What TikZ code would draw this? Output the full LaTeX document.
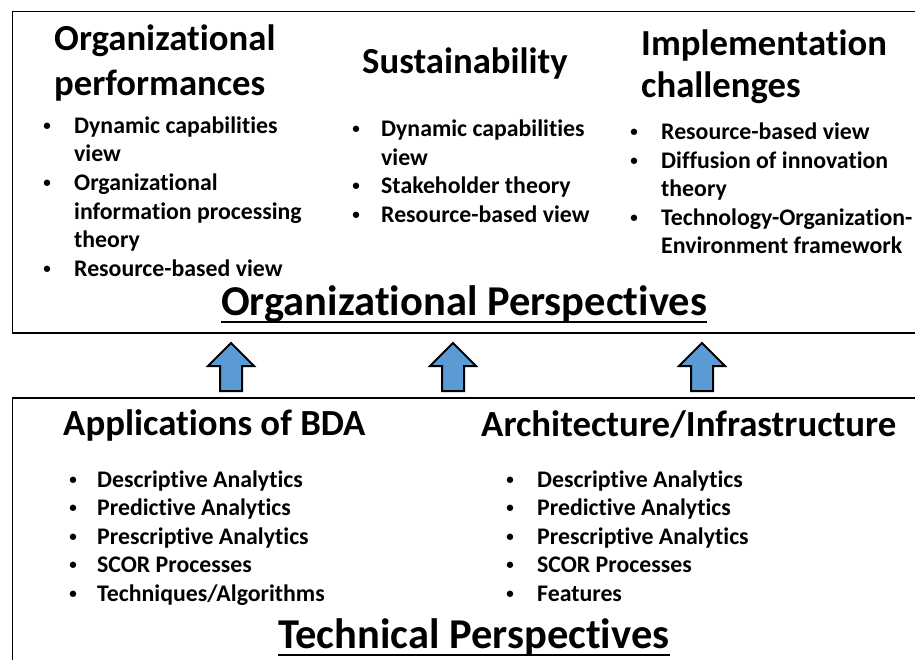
\documentclass[tikz,border=0pt]{standalone}
\usepackage{fontspec}
\setmainfont{Carlito}[Ligatures={NoCommon}]
\definecolor{arrblue}{HTML}{5B9BD5}
\begin{document}
\begin{tikzpicture}[x=1pt,y=-1pt,
  txt/.style={anchor=base west, inner sep=0pt, font=\bfseries\fontsize{23.8}{28}\selectfont},
  bul/.style={anchor=base, inner sep=0pt, yshift=3pt, font=\bfseries\fontsize{15}{18}\selectfont},
  head/.style={anchor=base west, inner sep=0pt, font=\bfseries\fontsize{36.7}{44}\selectfont},
  bhead/.style={anchor=base west, inner sep=0pt, font=\bfseries\fontsize{36.8}{44}\selectfont},
  persp/.style={anchor=base west, inner sep=0pt, font=\bfseries\fontsize{42.5}{50}\selectfont},
  frame/.style={draw=black, line width=1.5pt},
  uline/.style={line width=2pt},
  arr/.style={draw=black, line width=2pt, fill=arrblue, line join=miter}]
\useasboundingbox (0,0) rectangle (915,660);
\clip (0,0) rectangle (915,660);
\draw[frame] (930,11.5) -- (12.5,11.5) -- (12.5,333) -- (930,333);
\draw[frame] (930,398) -- (12.5,398) -- (12.5,670);

% top left column
\node[head] (h1a) at (54,51) {Organizational};
\node[head] (h1b) at (54,96) {performances};
\node[bul] (b1a) at (47,133.5) {•};
\node[txt] (t1a) at (74,133.5) {Dynamic capabilities};
\node[txt] (t1b) at (74,162) {view};
\node[bul] (b1b) at (47,190.7) {•};
\node[txt] (t1c) at (74,190.7) {Organizational};
\node[txt] (t1d) at (74,219.4) {information processing};
\node[txt] (t1e) at (74,248) {theory};
\node[bul] (b1c) at (47,276.7) {•};
\node[txt] (t1f) at (74,276.7) {Resource-based view};

% top middle column
\node[head] (h2) at (362,74) {Sustainability};
\node[bul] (b2a) at (356,137) {•};
\node[txt] (t2a) at (381,137) {Dynamic capabilities};
\node[txt] (t2b) at (381,165.5) {view};
\node[bul] (b2b) at (356,194) {•};
\node[txt] (t2c) at (381,194) {Stakeholder theory};
\node[bul] (b2c) at (356,222.5) {•};
\node[txt] (t2d) at (381,222.5) {Resource-based view};

% top right column
\node[head] (h3a) at (641,56) {Implementation};
\node[head] (h3b) at (641,98) {challenges};
\node[bul] (b3a) at (634,140) {•};
\node[txt] (t3a) at (661,140) {Resource-based view};
\node[bul] (b3b) at (634,168.5) {•};
\node[txt] (t3b) at (661,168.5) {Diffusion of innovation};
\node[txt] (t3c) at (661,197) {theory};
\node[bul] (b3c) at (634,225.5) {•};
\node[txt] (t3d) at (661,225.5) {Technology-Organization-};
\node[txt] (t3e) at (661,254) {Environment framework};

% organizational perspectives
\node[persp] (op) at (221,315) {Organizational Perspectives};
\draw[uline] ([yshift=-7pt]op.base west) -- ([yshift=-7pt]op.base east);

% arrows
\foreach \ax in {231,453,702}{
  \draw[arr] (\ax-11,391) -- (\ax-11,366) -- (\ax-23,366) -- (\ax,343)
    -- (\ax+23,366) -- (\ax+11,366) -- (\ax+11,391) -- cycle;
}

% bottom left
\node[bhead] (h4) at (63,435) {Applications of BDA};
\node[bul] (b4a) at (73,487) {•};
\node[txt] (t4a) at (97,487) {Descriptive Analytics};
\node[bul] (b4b) at (73,515.5) {•};
\node[txt] (t4b) at (97,515.5) {Predictive Analytics};
\node[bul] (b4c) at (73,544) {•};
\node[txt] (t4c) at (97,544) {Prescriptive Analytics};
\node[bul] (b4d) at (73,572.5) {•};
\node[txt] (t4d) at (97,572.5) {SCOR Processes};
\node[bul] (b4e) at (73,601) {•};
\node[txt] (t4e) at (97,601) {Techniques/Algorithms};

% bottom right
\node[bhead] (h5) at (481,436.5) {Architecture/Infrastructure};
\node[bul] (b5a) at (510,487) {•};
\node[txt] (t5a) at (537,487) {Descriptive Analytics};
\node[bul] (b5b) at (510,515.5) {•};
\node[txt] (t5b) at (537,515.5) {Predictive Analytics};
\node[bul] (b5c) at (510,544) {•};
\node[txt] (t5c) at (537,544) {Prescriptive Analytics};
\node[bul] (b5d) at (510,572.5) {•};
\node[txt] (t5d) at (537,572.5) {SCOR Processes};
\node[bul] (b5e) at (510,601) {•};
\node[txt] (t5e) at (537,601) {Features};

% technical perspectives
\node[persp] (tp) at (278,648) {Technical Perspectives};
\draw[uline] ([yshift=-7pt]tp.base west) -- ([yshift=-7pt]tp.base east);
\end{tikzpicture}
\end{document}
